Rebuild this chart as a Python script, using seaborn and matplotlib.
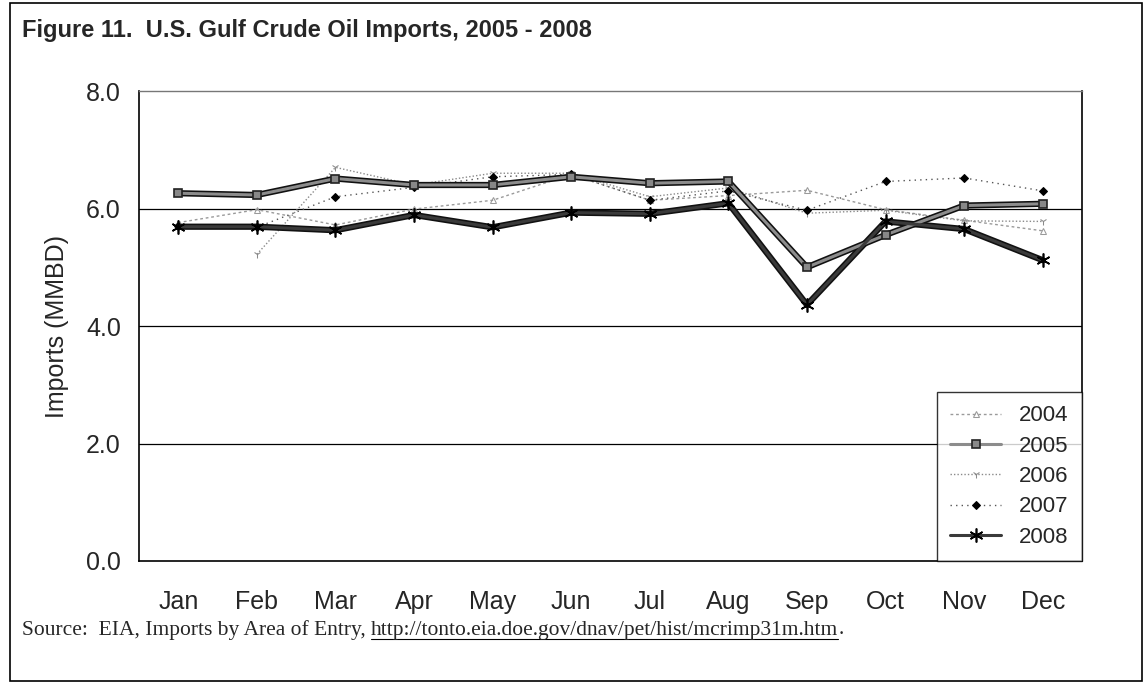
import numpy as np
import pandas as pd
import matplotlib
matplotlib.use("Agg")
import matplotlib.pyplot as plt
from matplotlib.lines import Line2D
from matplotlib.patches import Rectangle
import seaborn as sns

# data (MMBD)
months = ["Jan", "Feb", "Mar", "Apr", "May", "Jun", "Jul", "Aug", "Sep", "Oct", "Nov", "Dec"]
imports_2004 = [5.76, 5.98, 5.72, 5.99, 6.14, 6.58, 6.14, 6.22, 6.31, 5.98, 5.80, 5.62]
imports_2005 = [6.26, 6.23, 6.51, 6.40, 6.40, 6.54, 6.43, 6.46, 5.00, 5.55, 6.05, 6.08]
imports_2006 = [np.nan, 5.22, 6.70, 6.40, 6.60, 6.60, 6.20, 6.35, 5.92, 5.97, 5.79, 5.78]
imports_2007 = [5.70, 5.68, 6.20, 6.36, 6.54, 6.58, 6.14, 6.30, 5.97, 6.46, 6.52, 6.30]
imports_2008 = [5.69, 5.69, 5.63, 5.89, 5.68, 5.93, 5.91, 6.09, 4.36, 5.78, 5.65, 5.12]
y_ticks = [0.0, 2.0, 4.0, 6.0, 8.0]

sns.set_style("white")
plt.rcParams["font.family"] = ["Liberation Sans", "DejaVu Sans"]

W, H = 1145, 683
fig = plt.figure(figsize=(W / 100, H / 100), dpi=100)
ax = fig.add_axes([139 / W, 1 - 561 / H, (1082 - 139) / W, (561 - 91) / H])

x = np.arange(len(months))
df = pd.DataFrame({"month": x, "2004": imports_2004, "2005": imports_2005,
                   "2006": imports_2006, "2007": imports_2007, "2008": imports_2008})

# thin series first
sns.lineplot(data=df, x="month", y="2004", ax=ax, color="#9a9a9a", lw=1.0,
             linestyle=(0, (2, 2)), marker="^", markersize=4, markeredgecolor="#9a9a9a",
             markerfacecolor="none", label="2004")
sns.lineplot(data=df, x="month", y="2006", ax=ax, color="#8a8a8a", lw=1.0,
             linestyle=(0, (1, 1.5)), marker="1", markersize=6, markeredgecolor="#8a8a8a",
             label="2006")
sns.lineplot(data=df, x="month", y="2007", ax=ax, color="#555555", lw=1.0,
             linestyle=(0, (1, 3)), marker="D", markersize=4, markeredgecolor="black",
             markerfacecolor="black", label="2007")

# thick series: dark outline underneath, lighter core on top
for col in ["2005", "2008"]:
    sns.lineplot(data=df, x="month", y=col, ax=ax, color="#111111", lw=4.5, legend=False)
sns.lineplot(data=df, x="month", y="2005", ax=ax, color="#8c8c8c", lw=2.2,
             marker="s", markersize=6, markeredgecolor="#222222", markerfacecolor="#888888",
             markeredgewidth=1.2, label="2005")
sns.lineplot(data=df, x="month", y="2008", ax=ax, color="#3a3a3a", lw=2.2,
             marker=(6, 2, 0), markersize=10, markeredgecolor="black", markeredgewidth=1.2,
             label="2008")

ax.set_xlim(-0.5, len(months) - 0.5)
ax.set_ylim(0, 8)
ax.set_yticks(y_ticks)
ax.set_yticklabels([f"{v:.1f}" for v in y_ticks])
ax.set_xticks(x)
ax.set_xticklabels(months)
ax.set_xticks(np.arange(-0.5, len(months)), minor=True)
ax.tick_params(axis="x", which="major", length=0, pad=21, labelsize=18)
ax.tick_params(axis="x", which="minor", length=8, width=1, color="black", direction="out")
ax.tick_params(axis="y", length=8, width=1, color="black", direction="out", pad=5, labelsize=18)
ax.set_xlabel("")
ax.set_ylabel("Imports (MMBD)", fontsize=18, labelpad=12)

for v in y_ticks[1:-1]:
    ax.axhline(v, color="black", lw=0.9, zorder=0)

for side in ["left", "bottom", "right"]:
    ax.spines[side].set_color("black")
    ax.spines[side].set_linewidth(1.2)
ax.spines["top"].set_color("#777777")
ax.spines["top"].set_linewidth(1.0)

handles, labels = ax.get_legend_handles_labels()
order = ["2004", "2005", "2006", "2007", "2008"]
hmap = dict(zip(labels, handles))
leg = ax.legend([hmap[k] for k in order], order, loc="lower right", fontsize=16,
                frameon=True, fancybox=False, edgecolor="black", borderaxespad=0,
                handlelength=2.3, labelspacing=0.42, borderpad=0.6, handletextpad=0.8)
leg.get_frame().set_linewidth(1.0)

fig.text(22 / W, 1 - 31 / H, "Figure 11.  U.S. Gulf Crude Oil Imports, 2005 - 2008",
         fontsize=17, fontweight="bold", va="center", ha="left")

t1 = fig.text(22 / W, 1 - 630 / H, "Source:  EIA, Imports by Area of Entry, ",
              family="Liberation Serif", fontsize=15.5, va="center", ha="left")
fig.canvas.draw()
bb = t1.get_window_extent()
t2 = fig.text(bb.x1 / W, 1 - 630 / H, "http://tonto.eia.doe.gov/dnav/pet/hist/mcrimp31m.htm",
              family="Liberation Serif", fontsize=15.5, va="center", ha="left")
fig.canvas.draw()
bb2 = t2.get_window_extent()
fig.add_artist(Line2D([bb2.x0 / W, bb2.x1 / W], [(bb2.y0 + 1) / H] * 2, color="black", lw=0.8))
fig.text(bb2.x1 / W, 1 - 630 / H, ".", family="Liberation Serif", fontsize=15.5,
         va="center", ha="left")

# document frame around the figure
fig.add_artist(Rectangle((10 / W, 2 / H), (1142 - 10) / W, (680 - 2) / H,
                         transform=fig.transFigure, fill=False, edgecolor="black", lw=1.2))

fig.savefig("out.png", dpi=100)
